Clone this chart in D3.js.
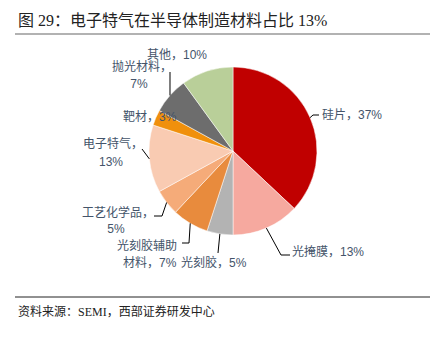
<!DOCTYPE html>
<html>
<head>
<meta charset="utf-8">
<script src="https://cdn.jsdelivr.net/npm/d3@7/dist/d3.min.js"></script>
<style>
  html, body { margin: 0; padding: 0; background: #fff; }
  svg { display: block; }
</style>
</head>
<body>
<svg id="chart" width="437" height="337"></svg>
<script>
// Share of semiconductor manufacturing materials (%), clockwise from 12 o'clock
const categories = ["硅片", "光掩膜", "光刻胶", "光刻胶辅助材料", "工艺化学品", "电子特气", "靶材", "抛光材料", "其他"];
const shares = [37, 13, 5, 7, 5, 13, 3, 7, 10];
const sliceColors = ["#C00000", "#F6A99F", "#B3B3B3", "#E88B3D", "#F5AB79", "#F9CBB2", "#F0900C", "#6D6D6D", "#B9CF99"];

const titleText = "图 29：电子特气在半导体制造材料占比 13%";
const sourceText = "资料来源：SEMI，西部证券研发中心";

// Label layout: text lines with anchors, plus leader-line elbow/end points
const labelLayout = {
  "硅片":          { lines: [["硅片，37%", 322, 119]], anchor: "start", leader: [[313, 115], [319, 115]] },
  "光掩膜":        { lines: [["光掩膜，13%", 292, 256]], anchor: "start", leader: [[281, 255], [290, 255]] },
  "光刻胶":        { lines: [["光刻胶，5%", 181, 267]], anchor: "start", leader: [[218, 253]] },
  "光刻胶辅助材料": { lines: [["光刻胶辅助", 117, 250], ["材料，7%", 123, 267]], anchor: "start", leader: [[189, 243], [182, 243]] },
  "工艺化学品":     { lines: [["工艺化学品，", 82, 217], ["5%", 116, 233]], anchor: "mixed", leader: [[162, 216], [154, 216]] },
  "电子特气":       { lines: [["电子特气，", 83, 148], ["13%", 111, 166]], anchor: "mixed", leader: [[142, 149]] },
  "靶材":          { lines: [["靶材，3%", 123, 121]], anchor: "start", leader: null },
  "抛光材料":       { lines: [["抛光材料，", 112, 71], ["7%", 139, 88]], anchor: "mixed", leader: [[170, 72]] },
  "其他":          { lines: [["其他，10%", 147, 59]], anchor: "start", leader: null }
};

const svg = d3.select("#chart");
const cx = 233, cy = 151, radius = 84;

const cjkSerif = "'Liberation Serif', 'Noto Sans CJK SC', serif";
const cjkSans = "'Liberation Sans', 'Noto Sans CJK SC', sans-serif";

// Title and rule
svg.append("text")
  .attr("x", 18).attr("y", 26)
  .attr("font-family", cjkSerif)
  .attr("font-size", 16)
  .attr("fill", "#222")
  .text(titleText);

svg.append("line")
  .attr("x1", 15).attr("x2", 430).attr("y1", 34).attr("y2", 34)
  .attr("stroke", "#999").attr("stroke-width", 1.5);

// Pie
const data = categories.map((c, i) => ({ name: c, value: shares[i], color: sliceColors[i] }));
const pie = d3.pie().value(d => d.value).sort(null);
const arc = d3.arc().innerRadius(0).outerRadius(radius);
const edgeArc = d3.arc().innerRadius(radius).outerRadius(radius);
const arcs = pie(data);

const g = svg.append("g").attr("transform", `translate(${cx},${cy})`);
g.selectAll("path.slice")
  .data(arcs)
  .join("path")
  .attr("class", "slice")
  .attr("d", arc)
  .attr("fill", d => d.data.color)
  .attr("stroke", "#fff")
  .attr("stroke-width", 0.5);

// Leader lines from slice edge midpoints
const line = d3.line();
arcs.forEach(a => {
  const lay = labelLayout[a.data.name];
  if (!lay.leader) return;
  const [ex, ey] = edgeArc.centroid(a);
  const pts = [[cx + ex, cy + ey]].concat(lay.leader);
  svg.append("path")
    .attr("d", line(pts))
    .attr("fill", "none")
    .attr("stroke", "#000")
    .attr("stroke-width", 1);
});

// Labels
arcs.forEach(a => {
  const lay = labelLayout[a.data.name];
  lay.lines.forEach((ln, i) => {
    let anchor = "start";
    if (lay.anchor === "mixed" && i === 1) anchor = "middle";
    svg.append("text")
      .attr("x", ln[1]).attr("y", ln[2])
      .attr("text-anchor", anchor)
      .attr("font-family", cjkSans)
      .attr("font-size", 12)
      .attr("fill", "#44546A")
      .text(ln[0]);
  });
});

// Footer rule and source
svg.append("line")
  .attr("x1", 15).attr("x2", 430).attr("y1", 297).attr("y2", 297)
  .attr("stroke", "#222").attr("stroke-width", 1);

svg.append("text")
  .attr("x", 18).attr("y", 316)
  .attr("font-family", cjkSerif)
  .attr("font-size", 12)
  .attr("fill", "#222")
  .text(sourceText);
</script>
</body>
</html>
